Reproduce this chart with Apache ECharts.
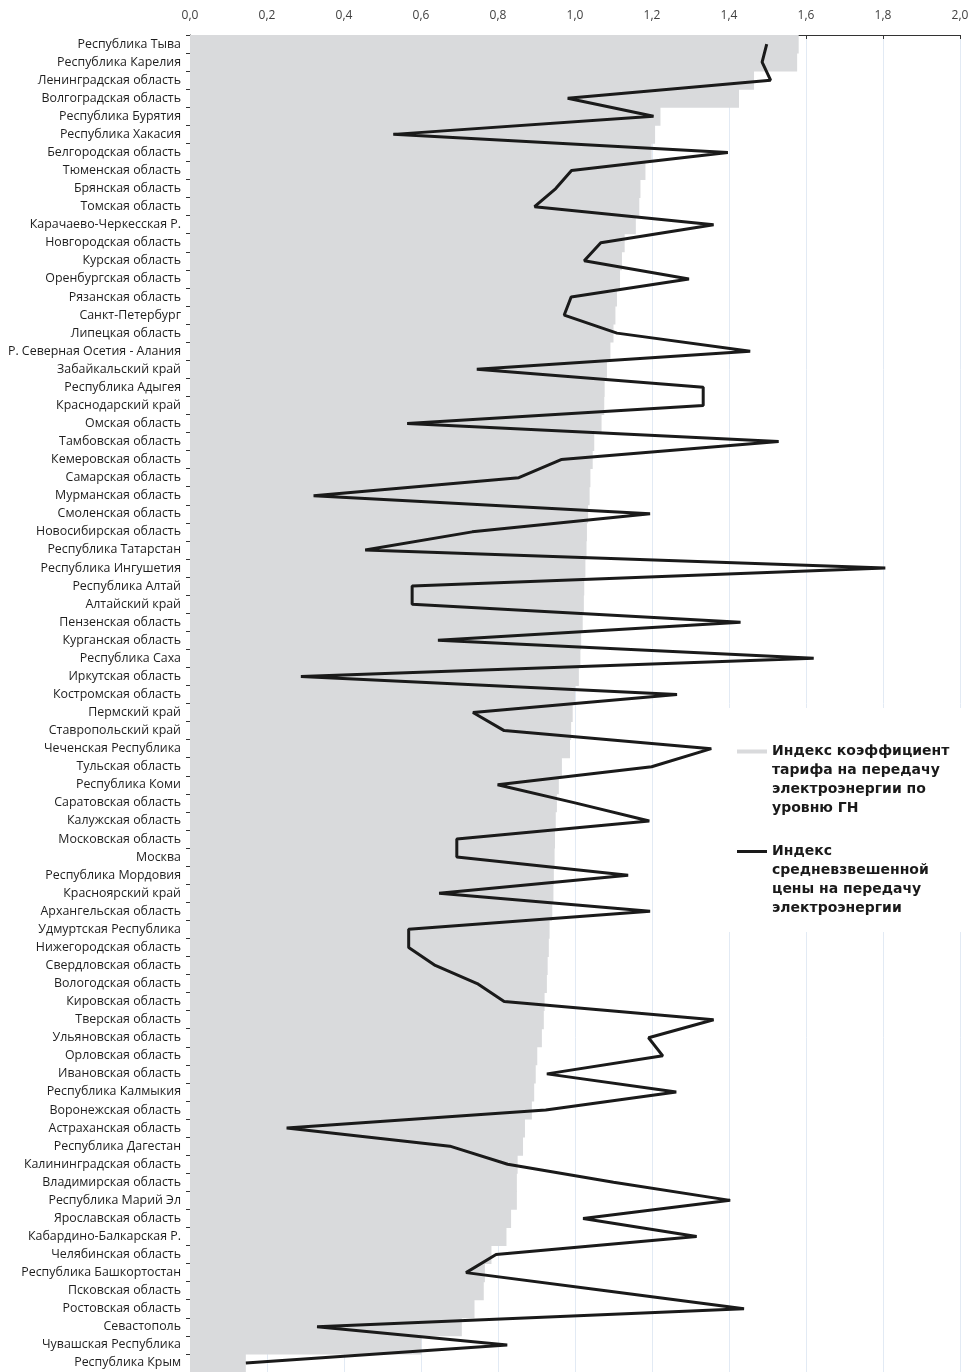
<!DOCTYPE html>
<html>
<head>
    <meta charset="utf-8">
    <title>ECharts</title>
    <script src="https://cdn.jsdelivr.net/npm/echarts@6/dist/echarts.min.js"></script>
    <style>
        html, body { margin: 0; padding: 0; background: #fff; }
    </style>
</head>
<body>
    <div id="c" style="width: 978px;height:1372px;"></div>
    <script>
        // регионы сверху вниз
        var regions = [
            'Республика Тыва', 'Республика Карелия', 'Ленинградская область', 'Волгоградская область',
            'Республика Бурятия', 'Республика Хакасия', 'Белгородская область', 'Тюменская область',
            'Брянская область', 'Томская область', 'Карачаево-Черкесская Р.', 'Новгородская область',
            'Курская область', 'Оренбургская область', 'Рязанская область', 'Санкт-Петербург',
            'Липецкая область', 'Р. Северная Осетия - Алания', 'Забайкальский край', 'Республика Адыгея',
            'Краснодарский край', 'Омская область', 'Тамбовская область', 'Кемеровская область',
            'Самарская область', 'Мурманская область', 'Смоленская область', 'Новосибирская область',
            'Республика Татарстан', 'Республика Ингушетия', 'Республика Алтай', 'Алтайский край',
            'Пензенская область', 'Курганская область', 'Республика Саха', 'Иркутская область',
            'Костромская область', 'Пермский край', 'Ставропольский край', 'Чеченская Республика',
            'Тульская область', 'Республика Коми', 'Саратовская область', 'Калужская область',
            'Московская область', 'Москва', 'Республика Мордовия', 'Красноярский край',
            'Архангельская область', 'Удмуртская Республика', 'Нижегородская область', 'Свердловская область',
            'Вологодская область', 'Кировская область', 'Тверская область', 'Ульяновская область',
            'Орловская область', 'Ивановская область', 'Республика Калмыкия', 'Воронежская область',
            'Астраханская область', 'Республика Дагестан', 'Калининградская область', 'Владимирская область',
            'Республика Марий Эл', 'Ярославская область', 'Кабардино-Балкарская Р.', 'Челябинская область',
            'Республика Башкортостан', 'Псковская область', 'Ростовская область', 'Севастополь',
            'Чувашская Республика', 'Республика Крым'
        ];

        // индекс коэффициента тарифа (серые столбцы)
        var tariffIndex = [
            1.581, 1.577, 1.465, 1.426, 1.222, 1.208, 1.199, 1.183, 1.170, 1.167,
            1.158, 1.129, 1.122, 1.117, 1.109, 1.105, 1.100, 1.092, 1.083, 1.077,
            1.076, 1.069, 1.050, 1.046, 1.040, 1.038, 1.034, 1.031, 1.030, 1.027,
            1.024, 1.023, 1.020, 1.016, 1.014, 1.010, 1.000, 0.994, 0.990, 0.987,
            0.966, 0.958, 0.953, 0.950, 0.948, 0.947, 0.945, 0.944, 0.941, 0.934,
            0.932, 0.929, 0.927, 0.921, 0.919, 0.914, 0.902, 0.898, 0.894, 0.888,
            0.870, 0.865, 0.851, 0.849, 0.849, 0.834, 0.822, 0.783, 0.766, 0.763,
            0.739, 0.706, 0.601, 0.145
        ];

        // индекс средневзвешенной цены (чёрная линия)
        var priceIndex = [
            1.498, 1.486, 1.508, 0.981, 1.204, 0.528, 1.397, 0.991, 0.950, 0.895,
            1.360, 1.067, 1.024, 1.296, 0.990, 0.972, 1.109, 1.455, 0.745, 1.333,
            1.333, 0.564, 1.529, 0.964, 0.854, 0.321, 1.195, 0.733, 0.455, 1.806,
            0.577, 0.577, 1.430, 0.644, 1.620, 0.288, 1.265, 0.735, 0.816, 1.354,
            1.199, 0.799, 1.000, 1.193, 0.693, 0.693, 1.138, 0.647, 1.195, 0.568,
            0.568, 0.637, 0.746, 0.816, 1.360, 1.191, 1.228, 0.927, 1.263, 0.924,
            0.251, 0.675, 0.825, 1.100, 1.403, 1.021, 1.316, 0.795, 0.717, 1.080,
            1.439, 0.330, 0.824, 0.145
        ];

        var xTicks = ['0,0', '0,2', '0,4', '0,6', '0,8', '1,0', '1,2', '1,4', '1,6', '1,8', '2,0'];

        var barName = 'Индекс коэффициент\nтарифа на передачу\nэлектроэнергии по\nуровню ГН';
        var lineName = 'Индекс\nсредневзвешенной\nцены на передачу\nэлектроэнергии';

        // значок высотой с весь текст, закрашена только полоска у первой строки
        var barIcon = 'path://M0,0h30v0h-30zM0,7.5h30v4h-30zM0,76h30v0h-30z';
        var lineIcon = 'path://M0,0h30v0h-30zM0,8h30v3h-30zM0,76h30v0h-30z';

        var legendText = {
            fontFamily: 'DejaVu Sans',
            fontWeight: 'bold',
            fontSize: 14,
            lineHeight: 19,
            color: '#1a1a1a'
        };

        var myChart = echarts.init(document.getElementById('c'));
        var option = {
            animation: false,
            backgroundColor: '#fff',
            grid: { left: 190, right: 18, top: 35, bottom: 0 },
            graphic: [{
                type: 'rect',
                z: 1,
                shape: { x: 727, y: 708, width: 251, height: 224 },
                style: { fill: '#fff' }
            }],
            legend: [{
                data: [{ name: barName, icon: barIcon }],
                left: 732, top: 737,
                itemWidth: 30, itemHeight: 76,
                symbolKeepAspect: false,
                itemStyle: { borderWidth: 0 },
                textStyle: legendText
            }, {
                data: [{ name: lineName, icon: lineIcon }],
                left: 732, top: 837,
                itemWidth: 30, itemHeight: 76,
                symbolKeepAspect: false,
                itemStyle: { borderWidth: 0 },
                textStyle: legendText
            }],
            xAxis: {
                type: 'value',
                position: 'top',
                min: 0, max: 2, interval: 0.2,
                axisLine: { show: true, lineStyle: { color: '#333', width: 1 } },
                axisTick: { show: true, inside: true, length: 4, lineStyle: { color: '#333' } },
                axisLabel: {
                    margin: 13,
                    color: '#404040',
                    fontFamily: 'Open Sans',
                    fontSize: 12,
                    formatter: function (v) {
                        return xTicks[Math.round(v / 0.2)];
                    }
                },
                splitLine: { show: true, lineStyle: { color: '#e2eaf4', width: 1 } }
            },
            yAxis: {
                type: 'category',
                inverse: true,
                data: regions,
                axisLine: { show: true, lineStyle: { color: '#333', width: 1 } },
                axisTick: { show: true, length: 4, lineStyle: { color: '#333' } },
                axisLabel: {
                    interval: 0,
                    margin: 9,
                    color: '#1e1e1e',
                    fontFamily: 'Open Sans',
                    fontSize: 12.4
                }
            },
            series: [{
                name: barName,
                type: 'bar',
                data: tariffIndex,
                // чуть шире полосы категории, чтобы не было щелей
                barWidth: 19,
                barCategoryGap: 0,
                itemStyle: { color: '#d9dadc' },
                z: 2
            }, {
                name: lineName,
                type: 'line',
                data: priceIndex,
                symbol: 'none',
                lineStyle: { color: '#1a1a1a', width: 3 },
                itemStyle: { color: '#1a1a1a' },
                z: 3
            }]
        };
        myChart.setOption(option);
    </script>
</body>
</html>
